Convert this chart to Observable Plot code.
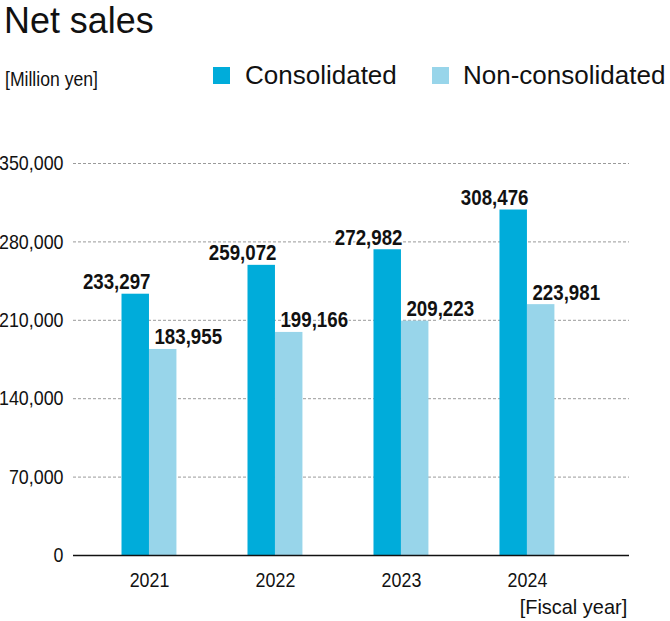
<!DOCTYPE html>
<html>
<head>
<meta charset="utf-8">
<script src="https://cdn.jsdelivr.net/npm/d3@7"></script>
<script src="https://cdn.jsdelivr.net/npm/@observablehq/plot@0.6"></script>
<style>
  body { margin: 0; background: #fff; }
  #wrap { position: relative; width: 670px; height: 621px; font-family: "Liberation Sans", Arial, sans-serif; color: #111; overflow: hidden; }
  .abs { position: absolute; white-space: nowrap; z-index: 2; }
  #title { left: 4px; top: 2px; font-size: 37px; line-height: 37px; transform: scaleX(0.97); transform-origin: left center; }
  #unit { left: 5px; top: 69px; font-size: 20px; line-height: 20px; transform: scaleX(0.88); transform-origin: left center; }
  .sw { position: absolute; width: 17px; height: 17px; top: 67px; z-index: 2; }
  .lg { position: absolute; top: 62px; font-size: 26px; line-height: 26px; white-space: nowrap; z-index: 2; }
  #fy { right: 43px; top: 596px; font-size: 21px; line-height: 21px; transform: scaleX(0.95); transform-origin: right center; }
  #chart { position: absolute; left: 0; top: 100px; z-index: 1; }
</style>
</head>
<body>
<div id="wrap">
  <div id="chart"></div>
  <div id="title" class="abs"></div>
  <div id="unit" class="abs"></div>
  <div id="legend"></div>
  <div id="fy" class="abs"></div>
</div>
<script>
const titleText = "Net sales";
const unitText = "[Million yen]";
const xAxisText = "[Fiscal year]";
const years = [2021, 2022, 2023, 2024];
const consolidated = [233297, 259072, 272982, 308476];
const nonConsolidated = [183955, 199166, 209223, 223981];
const yTicks = [0, 70000, 140000, 210000, 280000, 350000];
const seriesNames = ["Consolidated", "Non-consolidated"];
const seriesColors = ["#00acda", "#98d5ea"];

document.getElementById("title").textContent = titleText;
document.getElementById("unit").textContent = unitText;
document.getElementById("fy").textContent = xAxisText;

const legend = document.getElementById("legend");
const swatchLeft = [213, 432];
const textLeft = [245, 463];
seriesNames.forEach((name, i) => {
  const sw = document.createElement("div");
  sw.className = "sw";
  sw.style.left = swatchLeft[i] + "px";
  sw.style.background = seriesColors[i];
  legend.appendChild(sw);
  const t = document.createElement("div");
  t.className = "lg";
  t.style.left = textLeft[i] + "px";
  t.textContent = name;
  legend.appendChild(t);
});

const table = years.map((year, i) => ({
  year,
  consolidated: consolidated[i],
  nonConsolidated: nonConsolidated[i]
}));

const fmt = d3.format(",");
const font = "'Liberation Sans', Arial, sans-serif";
const bw = 0.218; // half group width in year units

const plot = Plot.plot({
  width: 670,
  height: 521,
  marginTop: 63,
  marginBottom: 66,
  marginLeft: 73,
  marginRight: 41,
  style: { fontFamily: font, fontSize: "20px", color: "#111", background: "white", overflow: "visible" },
  x: { domain: [2020.397, 2024.81], axis: null },
  y: { domain: [0, 350000], axis: null },
  marks: [
    Plot.ruleY(yTicks.filter(d => d > 0), { stroke: "#9a9a9a", strokeDasharray: "3,2", strokeWidth: 1 }),
    Plot.rectY(table, { x1: d => d.year - bw, x2: d => d.year, y: "consolidated", fill: seriesColors[0] }),
    Plot.rectY(table, { x1: d => d.year, x2: d => d.year + bw, y: "nonConsolidated", fill: seriesColors[1] }),
    Plot.ruleY([0], { stroke: "#111", strokeWidth: 1.6 }),
    Plot.text(table, {
      x: "year", y: "consolidated", text: d => fmt(d.consolidated),
      textAnchor: "end", lineAnchor: "bottom", dx: 1, dy: -5,
      fontFamily: font, fontWeight: "bold", fontSize: 22,
      fill: "#111", stroke: "white", strokeWidth: 3
    }),
    Plot.text(table, {
      x: "year", y: "nonConsolidated", text: d => fmt(d.nonConsolidated),
      textAnchor: "start", lineAnchor: "bottom", dx: 5, dy: -5,
      fontFamily: font, fontWeight: "bold", fontSize: 22,
      fill: "#111", stroke: "white", strokeWidth: 3
    }),
    Plot.axisY(yTicks, { tickSize: 0, tickPadding: 10, tickFormat: fmt, label: null, fontSize: 21 }),
    Plot.axisX(years, { tickSize: 0, tickPadding: 17, tickFormat: d => String(d), label: null, fontSize: 21 })
  ]
});
document.getElementById("chart").appendChild(plot);

// condense the numeric texts to mimic the reference's condensed typeface
plot.querySelectorAll("text").forEach(t => {
  const len = t.getComputedTextLength();
  if (len > 0) {
    t.setAttribute("textLength", (len * 0.85).toFixed(1));
    t.setAttribute("lengthAdjust", "spacingAndGlyphs");
  }
});
</script>
</body>
</html>
